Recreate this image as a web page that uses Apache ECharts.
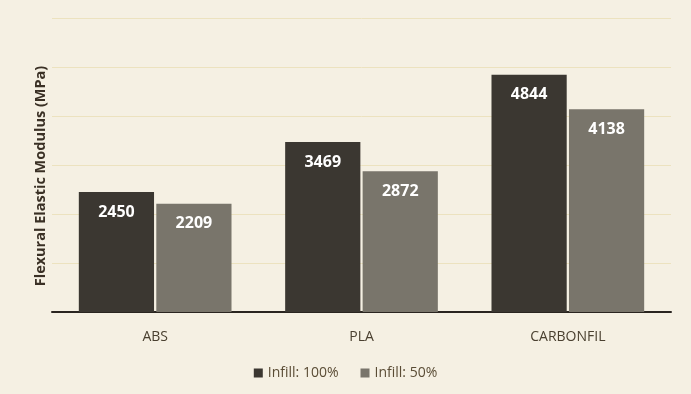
<!DOCTYPE html>
<html><head><meta charset="utf-8">
<script src="https://cdn.jsdelivr.net/npm/echarts@6/dist/echarts.min.js"></script>
<style>html,body{margin:0;padding:0;background:#f5f0e3;}#c{width:691px;height:394px;}</style>
</head><body><div id="c"></div>
<script>
const categories = ['ABS', 'PLA', 'CARBONFIL'];
const infill100 = [2450, 3469, 4844];
const infill50 = [2209, 2872, 4138];
const seriesNames = ['Infill: 100%', 'Infill: 50%'];
const yTitle = 'Flexural Elastic Modulus (MPa)';

const chart = echarts.init(document.getElementById('c'));
const lbl = {show: true, position: 'insideTop', distance: 12, color: '#ffffff', fontSize: 16, fontWeight: 'bold', fontFamily: 'Liberation Sans Narrow, Open Sans'};
chart.setOption({
  backgroundColor: '#f5f0e3',
  grid: {left: 52, right: 20, top: 18, bottom: 82},
  xAxis: {type: 'category', data: categories,
    axisLine: {lineStyle: {color: '#2a2520', width: 2}},
    axisTick: {show: false},
    axisLabel: {color: '#4a4030', fontSize: 14, fontFamily: 'Open Sans', margin: 18}},
  yAxis: {type: 'value', min: 0, max: 6000, interval: 1000,
    name: yTitle, nameLocation: 'middle', nameGap: 4, nameRotate: 90,
    nameTextStyle: {color: '#3a3025', fontSize: 14.5, fontWeight: 'bold', fontFamily: 'Open Sans', padding: [0, 22, 0, 0]},
    axisLabel: {show: false}, axisLine: {show: false}, axisTick: {show: false},
    splitLine: {lineStyle: {color: '#ece2bf', width: 1}}},
  legend: {bottom: 9, left: 'center', itemWidth: 9, itemHeight: 9, itemGap: 22, icon: 'rect',
    textStyle: {color: '#5a4c35', fontSize: 14, fontFamily: 'Open Sans'}},
  series: [
    {name: seriesNames[0], type: 'bar', data: infill100, barGap: '3%', barCategoryGap: '26%',
     itemStyle: {color: '#3b3731'}, label: lbl},
    {name: seriesNames[1], type: 'bar', data: infill50,
     itemStyle: {color: '#79756b'}, label: lbl}
  ]
});
</script></body></html>
